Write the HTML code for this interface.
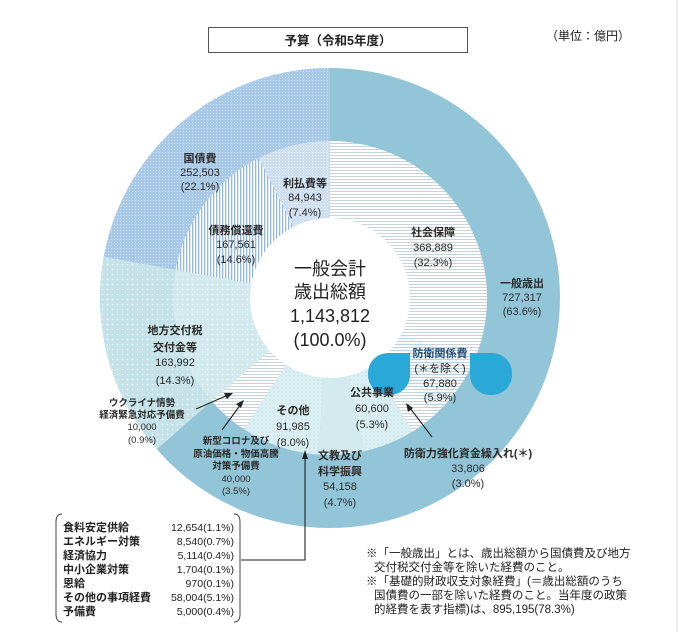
<!DOCTYPE html>
<html><head><meta charset="utf-8"><style>
html,body{margin:0;padding:0;background:#fff;}
svg{display:block;font-family:"Liberation Sans","Noto Sans CJK JP",sans-serif;}
.b{font-weight:bold;}
</style></head><body>
<svg width="680" height="632" viewBox="0 0 680 632" xmlns="http://www.w3.org/2000/svg">
<defs>
<pattern id="hl" width="4" height="3" patternUnits="userSpaceOnUse"><rect width="4" height="3" fill="#fff"/><rect y="0" width="4" height="1" fill="#c9d3d8"/></pattern>
<pattern id="hlb" width="4" height="3" patternUnits="userSpaceOnUse"><rect width="4" height="3" fill="#f4f8fa"/><rect y="0" width="4" height="1" fill="#bcd2dc"/></pattern>
<pattern id="vl" width="3" height="4" patternUnits="userSpaceOnUse"><rect width="3" height="4" fill="#fff"/><rect x="0" width="1.3" height="4" fill="#93b9df"/></pattern>
<pattern id="dotB" width="3" height="3" patternUnits="userSpaceOnUse"><rect width="3" height="3" fill="#a9c9e9"/><rect width="1" height="1" fill="#cfe0f2"/></pattern>
<pattern id="dotLB" width="3" height="3" patternUnits="userSpaceOnUse"><rect width="3" height="3" fill="#cddff1"/><rect width="1" height="1" fill="#eef4fb"/></pattern>
<pattern id="dotT" width="5" height="5" patternUnits="userSpaceOnUse"><rect width="5" height="5" fill="#c4e2e7"/><circle cx="2.5" cy="2.5" r="0.8" fill="#eaf5f7"/></pattern>
<pattern id="dotT2" width="5" height="5" patternUnits="userSpaceOnUse"><rect width="5" height="5" fill="#d2eaee"/><circle cx="2.5" cy="2.5" r="0.8" fill="#f2f9fa"/></pattern>
<pattern id="dotT3" width="4" height="4" patternUnits="userSpaceOnUse"><rect width="4" height="4" fill="#dceff2"/><circle cx="2" cy="2" r="0.7" fill="#b9dde3"/></pattern>
</defs>
<rect width="680" height="632" fill="#fff"/>
<line x1="677" y1="0" x2="677" y2="632" stroke="#ddd" stroke-width="1"/>

<rect x="208.5" y="27.5" width="259" height="25" fill="#fff" stroke="#555" stroke-width="1"/>
<text x="338" y="45" font-size="12.5" text-anchor="middle" fill="#222" class="b">予算（令和5年度）</text>
<text x="588" y="40" font-size="12" text-anchor="middle" fill="#222">（単位：億円）</text>

<g transform="translate(0,2)">
<circle cx="330" cy="296" r="230" fill="#93c5d8"/>
<path d="M330,296 L156.7,447.2 A230,230 0 0 1 103.8,254.5 Z" fill="url(#dotT)"/>
<path d="M330,296 L103.8,254.5 A230,230 0 0 1 330,66 Z" fill="url(#dotB)"/>

<path d="M330,296 L330,139 A157,157 0 0 1 470.8,365.6 Z" fill="url(#hl)"/>
<path d="M330,296 L470.8,365.6 A157,157 0 0 1 436.1,411.8 Z" fill="url(#hlb)"/>
<path d="M330,296 L436.1,411.8 A157,157 0 0 1 412.5,429.6 Z" fill="url(#hl)"/>
<path d="M330,296 L412.5,429.6 A157,157 0 0 1 364.2,449.2 Z" fill="url(#dotT3)"/>
<path d="M330,296 L364.2,449.2 A157,157 0 0 1 318.2,452.6 Z" fill="#d3ebef"/>
<path d="M330,296 L318.2,452.6 A157,157 0 0 1 244.3,427.5 Z" fill="url(#dotT3)"/>
<path d="M330,296 L244.3,427.5 A157,157 0 0 1 217.6,405.6 Z" fill="url(#hl)"/>
<path d="M330,296 L217.6,405.6 A157,157 0 0 1 211.7,399.2 Z" fill="url(#hl)"/>
<path d="M330,296 L211.7,399.2 A157,157 0 0 1 175.6,267.7 Z" fill="url(#dotT2)"/>
<path d="M330,296 L175.6,267.7 A157,157 0 0 1 258.7,156.1 Z" fill="url(#vl)"/>
<path d="M330,296 L258.7,156.1 A157,157 0 0 1 330,139 Z" fill="url(#dotLB)"/>
<circle cx="330" cy="296" r="80" fill="#fff"/>
</g>

<rect x="368" y="353" width="42" height="42" rx="20" fill="#2aa9d9"/>
<rect x="390" y="353" width="20" height="20" fill="#2aa9d9"/>
<rect x="470" y="353" width="42" height="42" rx="20" fill="#2aa9d9"/>
<rect x="470" y="353" width="20" height="20" fill="#2aa9d9"/>

<g font-size="11" fill="#2a2a2a" text-anchor="middle">
<text x="200" y="162" class="b">国債費</text><text x="200" y="176">252,503</text><text x="200" y="190">(22.1%)</text>
<text x="305" y="187" class="b">利払費等</text><text x="305" y="201">84,943</text><text x="305" y="216">(7.4%)</text>
<text x="236" y="234" class="b">債務償還費</text><text x="236" y="248">167,561</text><text x="236" y="263">(14.6%)</text>
<text x="433" y="236" class="b">社会保障</text><text x="433" y="251">368,889</text><text x="433" y="266">(32.3%)</text>
<text x="522" y="287" class="b">一般歳出</text><text x="522" y="301">727,317</text><text x="522" y="315">(63.6%)</text>
<text x="175" y="334" class="b">地方交付税</text><text x="175" y="351" class="b">交付金等</text><text x="175" y="366">163,992</text><text x="175" y="384">(14.3%)</text>
<text x="440" y="357" fill="#1f4f7a" class="b">防衛関係費</text><text x="440" y="372">(＊を除く)</text><text x="440" y="387">67,880</text><text x="440" y="401">(5.9%)</text>
<text x="372" y="396" class="b">公共事業</text><text x="372" y="412">60,600</text><text x="372" y="428">(5.3%)</text>
<text x="293" y="414" class="b">その他</text><text x="293" y="430">91,985</text><text x="293" y="446">(8.0%)</text>
<text x="340" y="459" class="b">文教及び</text><text x="340" y="475" class="b">科学振興</text><text x="340" y="490">54,158</text><text x="340" y="506">(4.7%)</text>
<text x="468" y="457" class="b">防衛力強化資金繰入れ(＊)</text><text x="468" y="472">33,806</text><text x="468" y="487">(3.0%)</text>
</g>
<g font-size="9.5" fill="#2a2a2a" text-anchor="middle">
<text x="142" y="406" class="b">ウクライナ情勢</text><text x="142" y="418" class="b">経済緊急対応予備費</text><text x="142" y="430">10,000</text><text x="142" y="443">(0.9%)</text>
<text x="236" y="444" class="b">新型コロナ及び</text><text x="236" y="457" class="b">原油価格・物価高騰</text><text x="236" y="469" class="b">対策予備費</text><text x="236" y="482">40,000</text><text x="236" y="494">(3.5%)</text>
</g>
<g font-size="18" fill="#222" text-anchor="middle">
<text x="330" y="275">一般会計</text><text x="330" y="298">歳出総額</text><text x="330" y="322">1,143,812</text><text x="330" y="346">(100.0%)</text>
</g>

<g stroke="#222" stroke-width="1.1" fill="#222">
<line x1="196" y1="409" x2="228" y2="395"/><path d="M233,393 L224,393 L227,399 Z" stroke="none"/>
<line x1="222" y1="430" x2="241" y2="404"/><path d="M244,400 L236,404 L241,408 Z" stroke="none"/>
<line x1="432" y1="437" x2="410" y2="408"/><path d="M406,403 L408,412 L413,408 Z" stroke="none"/>
<polyline points="241,560 305,560 305,457" fill="none"/><path d="M305,450 L302,459 L308,459 Z" stroke="none"/>
</g>

<path d="M62,514 Q56,514 56,522 L56,614 Q56,622 62,622" fill="none" stroke="#444" stroke-width="1"/>
<path d="M234,514 Q240,514 240,522 L240,614 Q240,622 234,622" fill="none" stroke="#444" stroke-width="1"/>
<g font-size="11" fill="#222" class="b">
<text x="63" y="531">食料安定供給</text><text x="63" y="545">エネルギー対策</text><text x="63" y="559">経済協力</text><text x="63" y="573">中小企業対策</text><text x="63" y="587">恩給</text><text x="63" y="601">その他の事項経費</text><text x="63" y="615">予備費</text>
</g>
<g font-size="10.5" fill="#222" text-anchor="end">
<text x="234" y="531">12,654(1.1%)</text><text x="234" y="545">8,540(0.7%)</text><text x="234" y="559">5,114(0.4%)</text><text x="234" y="573">1,704(0.1%)</text><text x="234" y="587">970(0.1%)</text><text x="234" y="601">58,004(5.1%)</text><text x="234" y="615">5,000(0.4%)</text>
</g>

<g font-size="11.5" fill="#222">
<text x="366" y="557">※「一般歳出」とは、歳出総額から国債費及び地方</text>
<text x="374" y="571">交付税交付金等を除いた経費のこと。</text>
<text x="366" y="585">※「基礎的財政収支対象経費」(＝歳出総額のうち</text>
<text x="374" y="599">国債費の一部を除いた経費のこと。当年度の政策</text>
<text x="374" y="613">的経費を表す指標)は、895,195(78.3%)</text>
</g>
</svg>
</body></html>
